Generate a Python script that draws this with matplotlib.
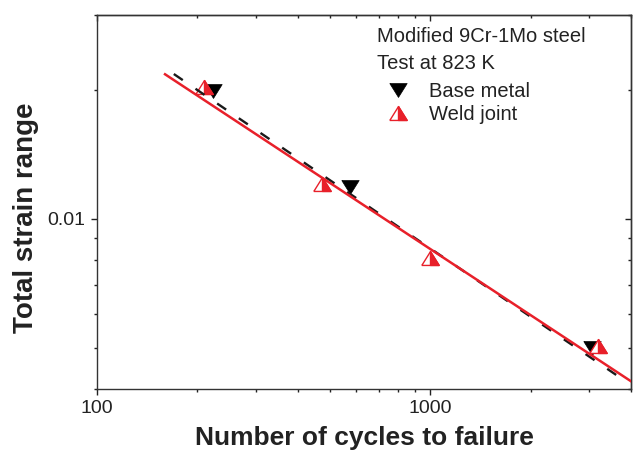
import matplotlib
matplotlib.use('Agg')
import matplotlib.pyplot as plt
from matplotlib.ticker import FixedLocator, FixedFormatter, NullFormatter
from matplotlib.legend_handler import HandlerTuple

plt.rcParams['font.family'] = ['Liberation Sans', 'DejaVu Sans']

# ---- data ----
base_N = [223, 574, 3060]
base_strain = [0.0199, 0.0119, 0.00498]
weld_N = [210, 474, 997, 3180]
weld_strain = [0.0203, 0.0121, 0.00809, 0.00503]

base_fit_N = [170, 3800]
base_fit_strain = [0.02183, 0.00420]
weld_fit_N = [160, 4000]
weld_fit_strain = [0.0218, 0.00417]

x_major = [100, 1000]
x_major_labels = ['100', '1000']
x_minor = [200, 300, 400, 500, 600, 700, 800, 900, 2000, 3000, 4000]
y_major = [0.01]
y_major_labels = ['0.01']
y_minor = [0.004, 0.005, 0.006, 0.007, 0.008, 0.009, 0.02, 0.03]
xlim = (100, 4000)
ylim = (0.004, 0.03)

RED = '#e8202a'

# triangle shapes (wider than tall)
tri_down = [(-1, 0.8), (1, 0.8), (0, -0.8), (-1, 0.8)]
tri_up = [(-1, -0.8), (1, -0.8), (0, 0.8), (-1, -0.8)]
tri_up_right = [(0, 0.8), (0, -0.8), (1, -0.8), (0, 0.8)]

fig = plt.figure(figsize=(6.4, 4.5), dpi=100)
ax = fig.add_axes([97 / 640, 61 / 450, 534 / 640, 374 / 450])
ax.set_xscale('log')
ax.set_yscale('log')

MS = 12.5
h_base, = ax.plot(base_N, base_strain, linestyle='none', marker=tri_down, ms=MS,
                  markerfacecolor='black', markeredgecolor='black', mew=0.5, zorder=3)
h_w1, = ax.plot(weld_N, weld_strain, linestyle='none', marker=tri_up, ms=MS,
                markerfacecolor='white', markeredgecolor=RED, mew=1.0, zorder=4)
h_w2, = ax.plot(weld_N, weld_strain, linestyle='none', marker=tri_up_right, ms=MS,
                markerfacecolor=RED, markeredgecolor=RED, mew=1.0, zorder=4)

ax.plot(base_fit_N, base_fit_strain, color='#1a1a1a', lw=1.7, dashes=(4.6, 6.5), zorder=5)
ax.plot(weld_fit_N, weld_fit_strain, color=RED, lw=1.8, zorder=6)

ax.set_xlim(*xlim)
ax.set_ylim(*ylim)

ax.xaxis.set_major_locator(FixedLocator(x_major))
ax.xaxis.set_major_formatter(FixedFormatter(x_major_labels))
ax.xaxis.set_minor_locator(FixedLocator(x_minor))
ax.xaxis.set_minor_formatter(NullFormatter())
ax.yaxis.set_major_locator(FixedLocator(y_major))
ax.yaxis.set_major_formatter(FixedFormatter(y_major_labels))
ax.yaxis.set_minor_locator(FixedLocator(y_minor))
ax.yaxis.set_minor_formatter(NullFormatter())

ax.tick_params(which='major', direction='out', length=4.5, width=1.0, labelsize=14,
               colors='#222222', labelcolor='#222222')
ax.tick_params(axis='x', which='major', pad=3.5)
ax.tick_params(axis='y', which='major', pad=3.6)
ax.tick_params(which='minor', direction='out', length=2.2, width=1.0, colors='#222222')
for s in ax.spines.values():
    s.set_linewidth(1.0)
    s.set_color('#333333')

ident = (lambda v: v, lambda v: v)
secx = ax.secondary_xaxis('top', functions=ident)
secx.xaxis.set_major_locator(FixedLocator(x_major))
secx.xaxis.set_minor_locator(FixedLocator(x_minor))
secx.xaxis.set_major_formatter(NullFormatter())
secx.xaxis.set_minor_formatter(NullFormatter())
secx.tick_params(which='major', direction='in', length=4.5, width=1.0, colors='#222222')
secx.tick_params(which='minor', direction='in', length=2.2, width=1.0, colors='#222222')
secy = ax.secondary_yaxis('right', functions=ident)
secy.yaxis.set_major_locator(FixedLocator(y_major))
secy.yaxis.set_minor_locator(FixedLocator(y_minor))
secy.yaxis.set_major_formatter(NullFormatter())
secy.yaxis.set_minor_formatter(NullFormatter())
secy.tick_params(which='major', direction='in', length=4.5, width=1.0, colors='#222222')
secy.tick_params(which='minor', direction='in', length=2.2, width=1.0, colors='#222222')
for sa in (secx, secy):
    for s in sa.spines.values():
        s.set_linewidth(1.0)
        s.set_color('#333333')

ax.set_xlabel('Number of cycles to failure', fontsize=19, fontweight='bold',
              color='#222222', va='center')
ax.xaxis.set_label_coords(0.5, -0.132)
ax.set_ylabel('Total strain range', fontsize=20, fontweight='bold',
              color='#222222', va='center')
ax.yaxis.set_label_coords(-0.133, 0.457)

ax.text(0.524, (389 - 41.7) / 374, 'Modified 9Cr-1Mo steel', transform=ax.transAxes,
        fontsize=14.5, color='#222222', ha='left', va='baseline')
ax.text(0.524, (389 - 69.3) / 374, 'Test at 823 K', transform=ax.transAxes,
        fontsize=14.5, color='#222222', ha='left', va='baseline')

leg = ax.legend([h_base, (h_w1, h_w2)], ['Base metal', 'Weld joint'],
                handler_map={tuple: HandlerTuple(ndivide=1, pad=0)},
                loc='upper left', bbox_to_anchor=(0.545, (389 - 82) / 374), frameon=False,
                fontsize=14.5, borderpad=0, borderaxespad=0, labelspacing=0.22,
                handlelength=1.0, handletextpad=1.05, labelcolor='#222222')

fig.savefig('out.png', dpi=100)
